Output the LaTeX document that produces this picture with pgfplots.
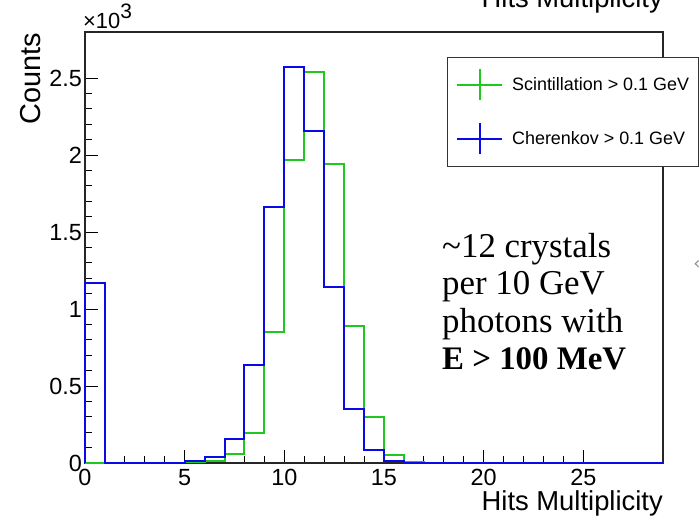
\documentclass[border=0pt]{standalone}
\usepackage{pgfplots}
\pgfplotsset{compat=1.18}
\usepackage{fontspec}
\setmainfont{Liberation Sans}
\newfontfamily\seriffont{Liberation Serif}
\newfontfamily\symfont{DejaVu Sans}
\definecolor{rootgreen}{RGB}{30,200,30}
\definecolor{rootblue}{RGB}{10,10,230}
\begin{document}
\begin{tikzpicture}
\useasboundingbox (-85bp,-53bp) rectangle (615bp,463bp);
\begin{axis}[
  at={(0,0)}, anchor=south west,
  scale only axis, width=578bp, height=431bp,
  xmin=0, xmax=29, ymin=0, ymax=2800,
  clip=false,
  axis line style={black!85, line width=1.3bp},
  xtick={0,5,10,15,20,25}, minor x tick num=4,
  ytick={0,500,1000,1500,2000,2500},
  yticklabels={0,0.5,1,1.5,2,2.5},
  minor y tick num=4,
  tick align=inside, xtick pos=bottom, ytick pos=left,
  major tick length=13bp, minor tick length=7bp,
  tick style={black, line width=1bp},
  /pgf/number format/assume math mode=true,
  ticklabel style={font=\fontsize{23.5}{24}\selectfont},
  xticklabel style={anchor=north, inner sep=0pt, yshift=-6bp},
  yticklabel style={anchor=east, inner sep=0pt, xshift=-3bp},
  legend cell align=left,
  legend style={at={(axis description cs:0.626,0.942)}, anchor=north west,
    draw=black!80, line width=1bp, fill=white,
    inner xsep=9bp, inner ysep=11bp, row sep=21bp,
    font=\fontsize{18}{18}\selectfont,
    nodes={inner sep=0pt},
    /tikz/every odd column/.append style={column sep=9bp}},
  legend image code/.code={
    \draw[#1, line width=1.8bp] (0bp,0bp) -- (45bp,0bp);
    \draw[#1, line width=1.8bp] (22.5bp,-15.5bp) -- (22.5bp,15.5bp);},
]
\addplot[const plot, rootgreen, line width=2bp] coordinates {
(0,0) (1,0) (2,0) (3,0) (4,0) (5,4) (6,15) (7,56) (8,196) (9,854)
(10,1970) (11,2540) (12,1940) (13,890) (14,300) (15,52) (16,5) (17,0)
(18,0) (19,0) (20,0) (21,0) (22,0) (23,0) (24,0) (25,0) (26,0) (27,0)
(28,0) (29,0)};
\addlegendentry{Scintillation > 0.1 GeV}
\addplot[const plot, rootblue, line width=2bp] coordinates {
(0,0) (0,1170) (1,0) (2,0) (3,0) (4,0) (5,15) (6,40) (7,155) (8,635) (9,1660)
(10,2575) (11,2160) (12,1145) (13,354) (14,82) (15,10) (16,0) (17,0)
(18,0) (19,0) (20,0) (21,0) (22,0) (23,0) (24,0) (25,0) (26,0) (27,0)
(28,0) (29,0)};
\addlegendentry{Cherenkov > 0.1 GeV}
\end{axis}
% axis titles and multiplier
\node[anchor=base east, inner sep=0pt, font=\fontsize{27.5}{28}\selectfont] at (578bp,-47bp) {Hits Multiplicity};
\node[anchor=base east, inner sep=0pt, font=\fontsize{27.5}{28}\selectfont] at (578bp,455bp) {Hits Multiplicity};
\node[anchor=base east, rotate=90, inner sep=0pt, font=\fontsize{29}{29}\selectfont] at (-44bp,430bp) {Counts};
\node[anchor=base west, inner sep=0pt, font=\fontsize{22}{22}\selectfont] at (-2bp,434bp) {×10\raisebox{10bp}{\fontsize{21}{21}\selectfont 3}};
% annotation
\node[anchor=base west, inner sep=0pt, font=\seriffont\fontsize{35}{35}\selectfont] at (357bp,205.5bp) {\char"007E 12 crystals};
\node[anchor=base west, inner sep=0pt, font=\seriffont\fontsize{35}{35}\selectfont] at (357bp,168bp) {per 10 GeV};
\node[anchor=base west, inner sep=0pt, font=\seriffont\fontsize{35}{35}\selectfont] at (357bp,130.5bp) {photons with};
\node[anchor=base west, inner sep=0pt, font=\seriffont\bfseries\fontsize{33}{33}\selectfont] at (357bp,93bp) {E > 100 MeV};
\node[anchor=center, inner sep=0pt, text=black!45, font=\symfont\fontsize{18}{18}\selectfont] at (612bp,198bp) {‹};
\end{tikzpicture}
\end{document}
